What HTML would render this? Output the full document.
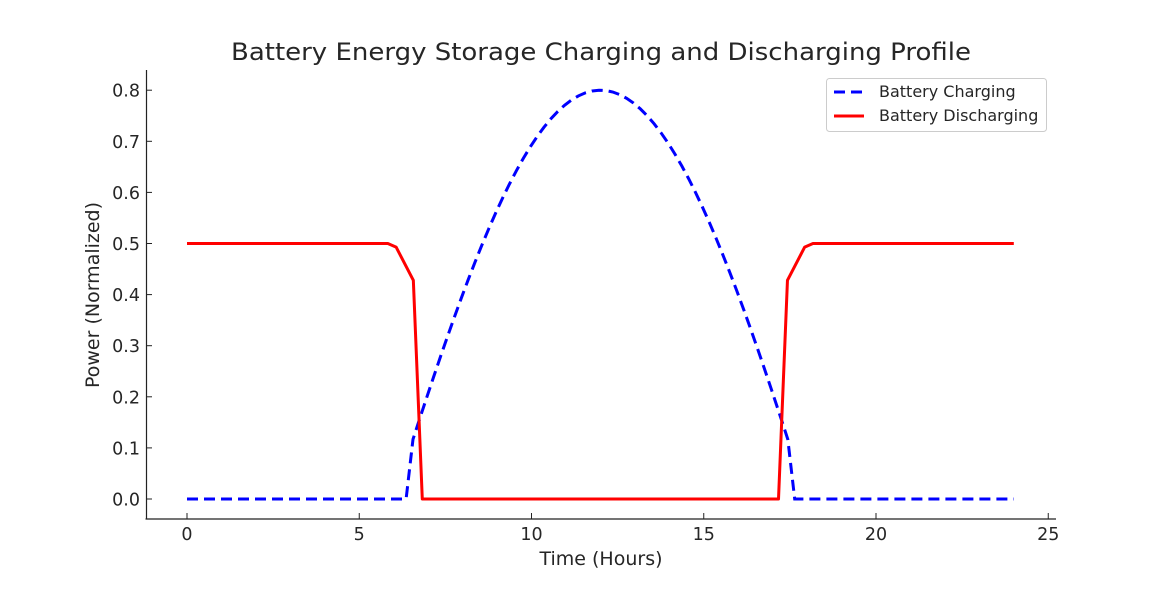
<!DOCTYPE html>
<html><head><meta charset="utf-8"><style>
body{margin:0;background:#fff;}
text{font-family:"DejaVu Sans","Liberation Sans",sans-serif;fill:#262626;}
</style></head><body>
<svg id="s" width="1173" height="584" xmlns="http://www.w3.org/2000/svg">
<rect width="1173" height="584" fill="#fff"/>
<text x="601" y="60" font-size="24" text-anchor="middle" textLength="740" lengthAdjust="spacingAndGlyphs">Battery Energy Storage Charging and Discharging Profile</text>
<line x1="146.5" y1="70" x2="146.5" y2="519.5" stroke="#222" stroke-width="1.2"/>
<line x1="145.5" y1="519" x2="1056" y2="519" stroke="#222" stroke-width="1.2"/>
<g id="xt" font-size="17.5" text-anchor="middle"></g>
<g id="yt" font-size="17.5" text-anchor="end"></g>
<text x="601" y="565" font-size="19" text-anchor="middle">Time (Hours)</text>
<text transform="translate(99,295) rotate(-90)" font-size="19" text-anchor="middle">Power (Normalized)</text>
<path id="blue" fill="none" stroke="#0000ff" stroke-width="3" stroke-dasharray="11,6"/>
<path id="red" fill="none" stroke="#ff0000" stroke-width="3" stroke-linejoin="round"/>
<rect x="826.5" y="78.5" width="220" height="53" rx="3" fill="#fff" stroke="#ccc"/>
<line x1="834" y1="92" x2="864" y2="92" stroke="#0000ff" stroke-width="3" stroke-dasharray="11,6"/>
<text x="879" y="97" font-size="16">Battery Charging</text>
<line x1="834" y1="116" x2="864" y2="116" stroke="#ff0000" stroke-width="3"/>
<text x="879" y="121" font-size="16">Battery Discharging</text>
</svg>
<script>
var X=t=>187+t*34.45, Y=v=>499-v*511;
var xt=document.getElementById('xt'),yt=document.getElementById('yt'),ns='http://www.w3.org/2000/svg';
for(var i=0;i<=25;i+=5){var l=document.createElementNS(ns,'line');l.setAttribute('x1',X(i));l.setAttribute('x2',X(i));l.setAttribute('y1',513);l.setAttribute('y2',519);l.setAttribute('stroke','#222');xt.appendChild(l);
var t=document.createElementNS(ns,'text');t.setAttribute('x',X(i));t.setAttribute('y',540);t.textContent=i;xt.appendChild(t);}
for(var k=0;k<=8;k++){var v=k/10;var l=document.createElementNS(ns,'line');l.setAttribute('x1',146);l.setAttribute('x2',152);l.setAttribute('y1',Y(v));l.setAttribute('y2',Y(v));l.setAttribute('stroke','#222');yt.appendChild(l);
var t=document.createElementNS(ns,'text');t.setAttribute('x',140);t.setAttribute('y',Y(v)+6.5);t.textContent=v.toFixed(1);yt.appendChild(t);}
var d='M'+X(0)+','+Y(0)+' L'+X(6.36)+','+Y(0);
for(var t=6.56;t<17.5;t+=0.2){d+=' L'+X(t)+','+Y(0.8*Math.sin(Math.PI*(t-6)/12));}
d+=' L'+X(17.44)+','+Y(0.8*Math.sin(Math.PI*11.44/12))+' L'+X(17.64)+','+Y(0)+' L'+X(24)+','+Y(0);
document.getElementById('blue').setAttribute('d',d);
var r=[[0,.5],[5.83,.5],[6.07,.493],[6.57,.428],[6.83,0],[17.17,0],[17.43,.428],[17.93,.493],[18.17,.5],[24,.5]];
document.getElementById('red').setAttribute('d','M'+r.map(p=>X(p[0])+','+Y(p[1])).join(' L'));
</script>
</body></html>
